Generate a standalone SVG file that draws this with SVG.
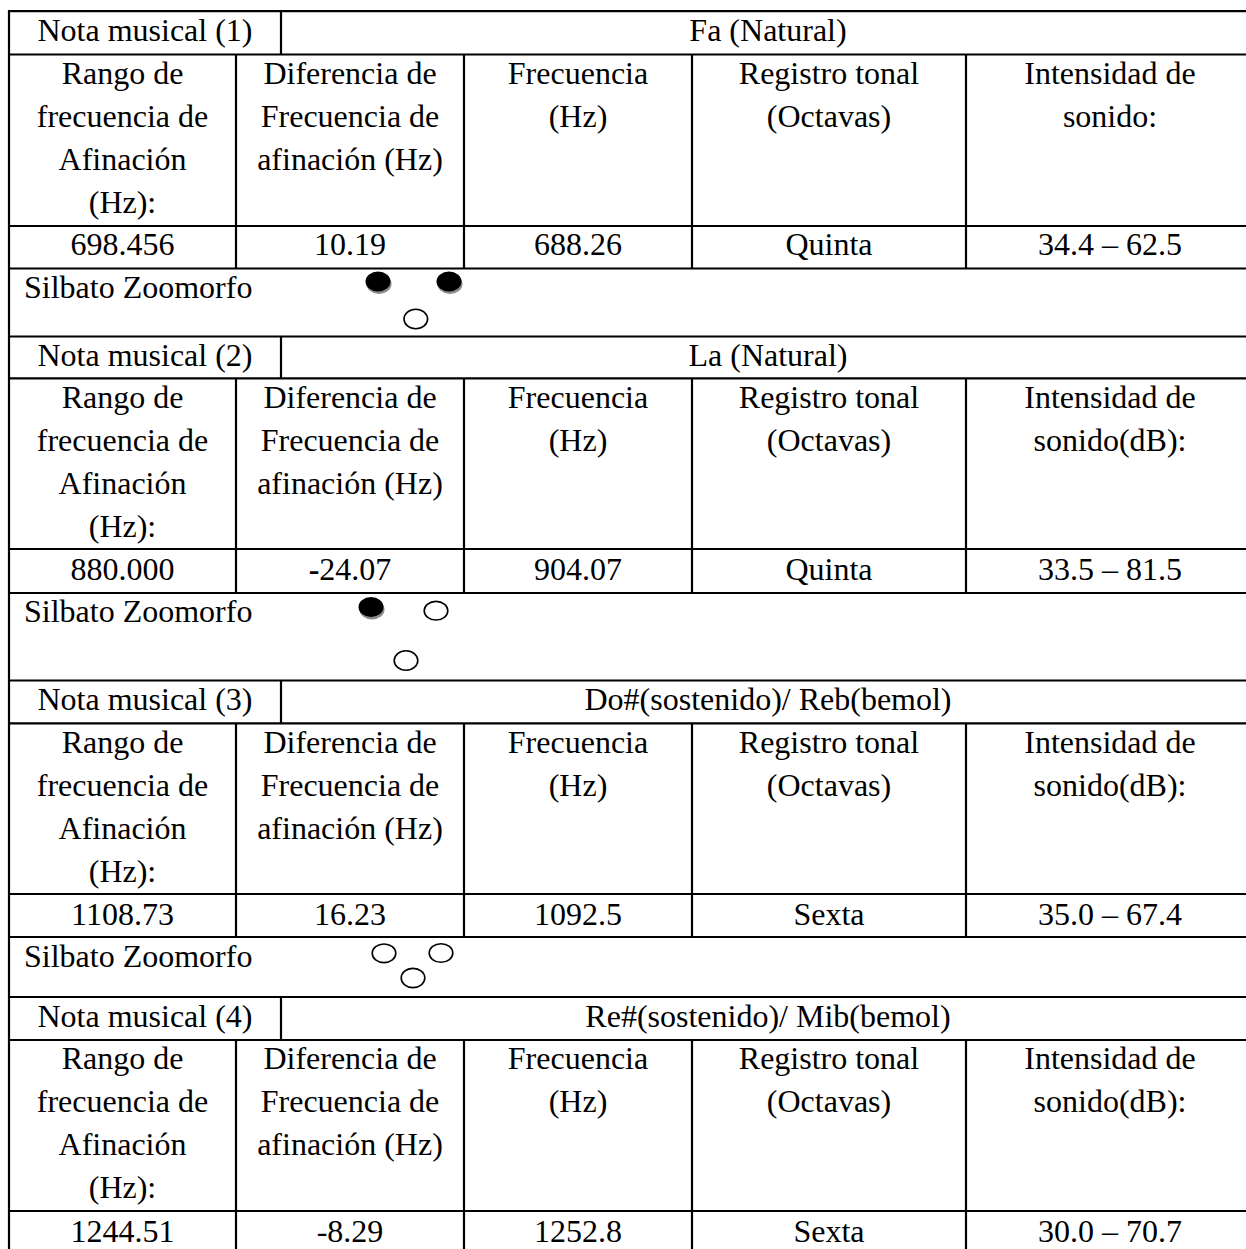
<svg xmlns="http://www.w3.org/2000/svg" width="1246" height="1249" viewBox="0 0 1246 1249">
<style>
  text { font-family: "Liberation Serif", "Times New Roman", serif; font-size: 32px; fill: #000; }
  .c { text-anchor: middle; }
  .ln { stroke: #000; stroke-width: 2.2; fill: none; }
  .hole { fill: #fff; stroke: #000; stroke-width: 1.6; }
  .filled { fill: #000; }
  .shadow { fill: #8a8a8a; }
</style>
<rect x="0" y="0" width="1246" height="1249" fill="#fff"/>
<g id="connectors">
  <path class="ln" d="M8 11.2H1246 M8 54.5H1246 M8 226H1246 M8 268.5H1246 M8 336.5H1246
    M8 378.3H1246 M8 549H1246 M8 593H1246 M8 680.5H1246
    M8 723.3H1246 M8 894H1246 M8 937H1246 M8 997H1246
    M8 1040H1246 M8 1211H1246"/>
  <path class="ln" d="M9 10V1249"/>
  <path class="ln" d="M281 11.2V54.5 M281 336.5V378.3 M281 680.5V723.3 M281 997V1040"/>
  <path class="ln" d="M236 54.5V268.5 M464 54.5V268.5 M692 54.5V268.5 M966 54.5V268.5
    M236 378.3V593 M464 378.3V593 M692 378.3V593 M966 378.3V593
    M236 723.3V937 M464 723.3V937 M692 723.3V937 M966 723.3V937
    M236 1040V1249 M464 1040V1249 M692 1040V1249 M966 1040V1249"/>
</g>

<g id="nota1">
  <text class="c" x="145" y="40.5">Nota musical (1)</text>
  <text class="c" x="768" y="40.5">Fa (Natural)</text>
  <text class="c" x="122.5" y="83.5">Rango de</text>
  <text class="c" x="122.5" y="126.5">frecuencia de</text>
  <text class="c" x="122.5" y="169.5">Afinación</text>
  <text class="c" x="122.5" y="212.5">(Hz):</text>
  <text class="c" x="350" y="83.5">Diferencia de</text>
  <text class="c" x="350" y="126.5">Frecuencia de</text>
  <text class="c" x="350" y="169.5">afinación (Hz)</text>
  <text class="c" x="578" y="83.5">Frecuencia</text>
  <text class="c" x="578" y="126.5">(Hz)</text>
  <text class="c" x="829" y="83.5">Registro tonal</text>
  <text class="c" x="829" y="126.5">(Octavas)</text>
  <text class="c" x="1110" y="83.5">Intensidad de</text>
  <text class="c" x="1110" y="126.5">sonido:</text>
  <text class="c" x="122.5" y="255">698.456</text>
  <text class="c" x="350" y="255">10.19</text>
  <text class="c" x="578" y="255">688.26</text>
  <text class="c" x="829" y="255">Quinta</text>
  <text class="c" x="1110" y="255">34.4 – 62.5</text>
</g>
<g id="silbato1">
  <text x="24" y="297.7">Silbato Zoomorfo</text>
  <ellipse class="shadow" cx="379" cy="284" rx="12.5" ry="10"/>
  <ellipse class="filled" cx="378" cy="281.5" rx="12.5" ry="10"/>
  <ellipse class="shadow" cx="450" cy="284" rx="12.5" ry="10"/>
  <ellipse class="filled" cx="449" cy="281.5" rx="12.5" ry="10"/>
  <ellipse class="hole" cx="415.8" cy="319" rx="11.8" ry="9.8"/>
</g>

<g id="nota2">
  <text class="c" x="145" y="366">Nota musical (2)</text>
  <text class="c" x="768" y="366">La (Natural)</text>
  <text class="c" x="122.5" y="407.5">Rango de</text>
  <text class="c" x="122.5" y="450.5">frecuencia de</text>
  <text class="c" x="122.5" y="493.5">Afinación</text>
  <text class="c" x="122.5" y="536.5">(Hz):</text>
  <text class="c" x="350" y="407.5">Diferencia de</text>
  <text class="c" x="350" y="450.5">Frecuencia de</text>
  <text class="c" x="350" y="493.5">afinación (Hz)</text>
  <text class="c" x="578" y="407.5">Frecuencia</text>
  <text class="c" x="578" y="450.5">(Hz)</text>
  <text class="c" x="829" y="407.5">Registro tonal</text>
  <text class="c" x="829" y="450.5">(Octavas)</text>
  <text class="c" x="1110" y="407.5">Intensidad de</text>
  <text class="c" x="1110" y="450.5">sonido(dB):</text>
  <text class="c" x="122.5" y="580">880.000</text>
  <text class="c" x="350" y="580"><tspan font-weight="bold">-</tspan>24.07</text>
  <text class="c" x="578" y="580">904.07</text>
  <text class="c" x="829" y="580">Quinta</text>
  <text class="c" x="1110" y="580">33.5 – 81.5</text>
</g>
<g id="silbato2">
  <text x="24" y="621.7">Silbato Zoomorfo</text>
  <ellipse class="shadow" cx="372" cy="609.5" rx="12.5" ry="10"/>
  <ellipse class="filled" cx="371" cy="607" rx="12.5" ry="10"/>
  <ellipse class="hole" cx="436" cy="610.7" rx="11.8" ry="9.3"/>
  <ellipse class="hole" cx="406" cy="660.5" rx="11.8" ry="9.8"/>
</g>

<g id="nota3">
  <text class="c" x="145" y="710">Nota musical (3)</text>
  <text class="c" x="768" y="710">Do#(sostenido)/ Reb(bemol)</text>
  <text class="c" x="122.5" y="752.5">Rango de</text>
  <text class="c" x="122.5" y="795.5">frecuencia de</text>
  <text class="c" x="122.5" y="838.5">Afinación</text>
  <text class="c" x="122.5" y="881.5">(Hz):</text>
  <text class="c" x="350" y="752.5">Diferencia de</text>
  <text class="c" x="350" y="795.5">Frecuencia de</text>
  <text class="c" x="350" y="838.5">afinación (Hz)</text>
  <text class="c" x="578" y="752.5">Frecuencia</text>
  <text class="c" x="578" y="795.5">(Hz)</text>
  <text class="c" x="829" y="752.5">Registro tonal</text>
  <text class="c" x="829" y="795.5">(Octavas)</text>
  <text class="c" x="1110" y="752.5">Intensidad de</text>
  <text class="c" x="1110" y="795.5">sonido(dB):</text>
  <text class="c" x="122.5" y="924.5">1108.73</text>
  <text class="c" x="350" y="924.5">16.23</text>
  <text class="c" x="578" y="924.5">1092.5</text>
  <text class="c" x="829" y="924.5">Sexta</text>
  <text class="c" x="1110" y="924.5">35.0 – 67.4</text>
</g>
<g id="silbato3">
  <text x="24" y="966.7">Silbato Zoomorfo</text>
  <ellipse class="hole" cx="384" cy="953.3" rx="11.8" ry="9.3"/>
  <ellipse class="hole" cx="441" cy="953" rx="11.8" ry="9.3"/>
  <ellipse class="hole" cx="413" cy="978" rx="11.8" ry="9.6"/>
</g>

<g id="nota4">
  <text class="c" x="145" y="1027">Nota musical (4)</text>
  <text class="c" x="768" y="1027">Re#(sostenido)/ Mib(bemol)</text>
  <text class="c" x="122.5" y="1069.3">Rango de</text>
  <text class="c" x="122.5" y="1112.3">frecuencia de</text>
  <text class="c" x="122.5" y="1155.3">Afinación</text>
  <text class="c" x="122.5" y="1198.3">(Hz):</text>
  <text class="c" x="350" y="1069.3">Diferencia de</text>
  <text class="c" x="350" y="1112.3">Frecuencia de</text>
  <text class="c" x="350" y="1155.3">afinación (Hz)</text>
  <text class="c" x="578" y="1069.3">Frecuencia</text>
  <text class="c" x="578" y="1112.3">(Hz)</text>
  <text class="c" x="829" y="1069.3">Registro tonal</text>
  <text class="c" x="829" y="1112.3">(Octavas)</text>
  <text class="c" x="1110" y="1069.3">Intensidad de</text>
  <text class="c" x="1110" y="1112.3">sonido(dB):</text>
  <text class="c" x="122.5" y="1241.5">1244.51</text>
  <text class="c" x="350" y="1241.5">-8.29</text>
  <text class="c" x="578" y="1241.5">1252.8</text>
  <text class="c" x="829" y="1241.5">Sexta</text>
  <text class="c" x="1110" y="1241.5">30.0 – 70.7</text>
</g>
</svg>
